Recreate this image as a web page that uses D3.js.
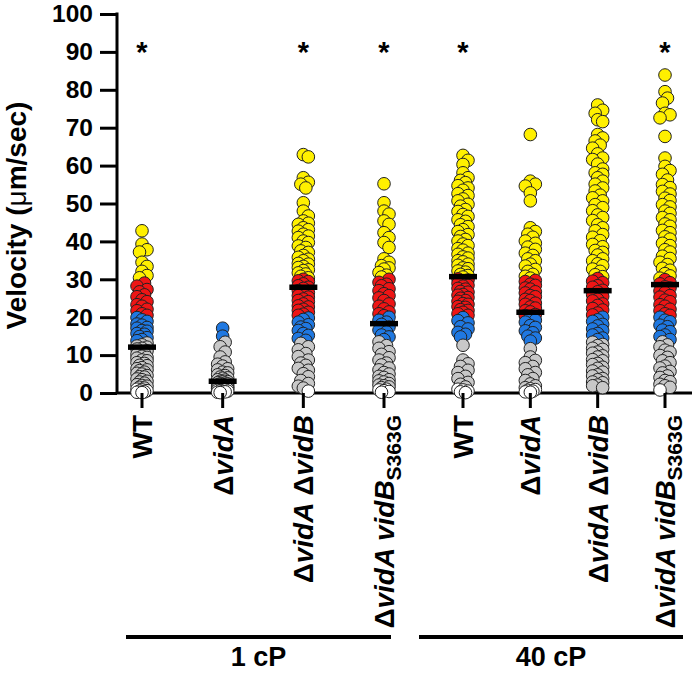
<!DOCTYPE html>
<html>
<head>
<meta charset="utf-8">
<script src="https://cdn.jsdelivr.net/npm/d3@7"></script>
<style>
  html, body { margin: 0; padding: 0; background: #fff; }
  svg { display: block; }
  text { font-family: "Liberation Sans", Arial, Helvetica, sans-serif; font-weight: bold; fill: #000; }
</style>
</head>
<body>
<svg id="chart" width="693" height="673"></svg>
<script>
// ---------------- DATA ----------------
const groups = ["1 cP", "40 cP"];
const categoryGroup = [0, 0, 0, 0, 1, 1, 1, 1];
// label parts: [text, italic?, subscript?]
const categoryLabels = [
  [["WT", 0, 0]],
  [["Δ", 0, 0], ["vidA", 1, 0]],
  [["Δ", 0, 0], ["vidA ", 1, 0], ["Δ", 0, 0], ["vidB", 1, 0]],
  [["Δ", 0, 0], ["vidA vidB", 1, 0], ["S363G", 0, 1]],
  [["WT", 0, 0]],
  [["Δ", 0, 0], ["vidA", 1, 0]],
  [["Δ", 0, 0], ["vidA ", 1, 0], ["Δ", 0, 0], ["vidB", 1, 0]],
  [["Δ", 0, 0], ["vidA vidB", 1, 0], ["S363G", 0, 1]]
];
const yTicks = [0, 10, 20, 30, 40, 50, 60, 70, 80, 90, 100];
const significance = ["*", "", "*", "*", "*", "", "", "*"];
const means = [12.1, 3.1, 27.9, 18.3, 30.7, 21.3, 27.0, 28.6];

const wt1 = [42.8, 39.3, 37.8, 37.2, 34.5, 33.4, 32.1, 31.0, 30.4,
  29.0, 28.2, 27.3, 26.7, 25.9, 25.4, 24.6, 24.1, 23.3, 22.9, 22.1, 21.7, 20.9, 20.5,
  19.9, 19.3, 18.9, 18.2, 17.9, 17.3, 17.1, 16.5, 16.3, 15.7, 15.5, 14.9, 14.6, 14.1, 13.8,
  13.2, 12.7, 12.4, 12.1, 11.8, 11.6, 11.1, 10.9, 10.4, 10.2, 9.7, 9.4, 9.2, 8.7, 8.5, 8.0,
  7.8, 7.3, 7.2, 6.7, 6.4, 6.1, 5.9, 5.5, 5.2, 5.0, 4.6, 4.3, 4.2, 3.7, 3.5, 3.1, 2.9, 2.6,
  2.2, 2.0, 1.8, 1.5, 1.3, 1.0, 0.8, 0.6, 0.5, 0.3, 0.2, 0.1];
const vidA1 = [17.1, 15.0, 13.4, 12.2, 10.8, 9.5, 8.2, 7.6, 7.1, 6.4, 6.1, 5.5, 5.3, 4.8, 4.6,
  4.2, 4.0, 3.9, 3.5, 3.4, 3.1, 3.0, 2.9, 2.7, 2.6, 2.4, 2.4, 2.2, 2.1, 2.0, 1.9, 1.8, 1.7,
  1.6, 1.6, 1.5, 1.4, 1.3, 1.3, 1.2, 1.1, 1.0, 0.9, 0.8, 0.7, 0.6, 0.5, 0.4, 0.3, 0.2, 0.1];
const vidAB1 = [62.9, 62.3, 56.8, 55.6, 55.1, 54.1, 50.2, 48.0, 46.7, 45.4, 44.8, 44.5, 43.6,
  43.1, 42.7, 41.9, 41.4, 41.0, 40.1, 39.7, 38.8, 38.4, 37.5, 37.1, 36.3, 35.8, 35.3, 34.9,
  34.2, 34.0, 33.4, 33.1, 32.5, 32.3, 31.7, 31.4, 30.8, 30.4,
  30.0, 29.6, 29.4, 28.8, 28.3, 27.9, 27.6, 27.0, 26.5, 26.2, 25.7, 25.3, 24.8, 24.4, 24.1,
  23.5, 23.0, 22.7, 22.1, 21.8, 21.3, 20.8, 20.5,
  19.8, 19.4, 18.7, 18.0, 17.4, 17.0, 16.5, 15.7, 15.2, 14.4, 13.9,
  13.1, 12.2, 11.4, 10.4, 9.6, 8.7, 7.9, 7.3, 6.5, 6.0, 5.1, 4.3, 3.3, 2.5, 1.8, 1.3, 0.5];
const s363g1 = [55.2, 50.2, 48.0, 47.2, 45.4, 44.5, 42.3, 41.0, 39.7, 38.4, 35.4, 34.5, 33.6,
  33.0, 32.7, 31.8, 31.1, 30.6,
  30.0, 29.2, 28.7, 28.3, 27.5, 27.0, 26.2, 25.7, 25.1, 24.4, 23.5, 22.9, 22.2, 21.4, 20.9, 20.4,
  20.0, 19.2, 18.7, 18.1, 17.4, 16.6, 16.1, 15.3, 14.8, 14.1,
  13.5, 12.5, 11.8, 10.9, 10.2, 9.3, 8.7, 7.9, 7.4, 6.6, 6.1, 5.4, 5.0, 4.4, 4.1, 3.5, 3.2,
  2.9, 2.5, 2.1, 1.9, 1.6, 1.4, 1.0, 0.8, 0.6, 0.4, 0.2];
const wt40 = [62.7, 61.4, 60.3, 58.1, 56.8, 56.1, 55.5, 54.7, 54.1, 53.5, 52.6, 52.1, 51.2,
  50.7, 49.8, 49.3, 48.4, 47.9, 47.1, 46.6, 45.7, 45.3, 44.4, 43.9, 43.1, 42.6, 41.8, 41.3,
  40.5, 40.1, 39.3, 38.9, 38.1, 37.7, 36.9, 36.6, 35.9, 35.6, 34.9, 34.6, 34.0, 33.7, 33.0,
  32.8, 32.2, 31.9, 31.3, 31.0, 30.6,
  30.1, 29.8, 29.2, 28.9, 28.4, 28.2, 27.6, 27.4, 26.8, 26.6, 26.0, 25.8, 25.2, 25.0, 24.4,
  24.2, 23.6, 23.4, 22.8, 22.6, 22.0, 21.8, 21.3, 20.9, 20.5,
  19.9, 19.1, 18.5, 17.5, 16.9, 16.0, 15.5, 14.8,
  12.6, 8.7, 7.7, 7.0, 6.0, 5.4, 4.4, 3.8, 2.8, 2.3, 1.6,
  1.0, 0.8, 0.5, 0.3, 0.1];
const vidA40 = [68.2, 55.9, 55.1, 54.6, 52.8, 50.7, 43.6, 42.6, 41.9, 41.1, 40.1, 39.5, 38.5,
  37.9, 36.9, 36.3, 35.4, 34.9, 34.0, 33.5, 32.6, 32.1, 31.3, 30.8,
  30.3, 29.7, 29.4, 28.7, 28.4, 27.7, 27.4, 26.7, 26.4, 25.7, 25.4, 24.7, 24.4, 23.7, 23.4,
  22.7, 22.4, 21.7, 21.4, 20.7, 20.4,
  20.0, 19.2, 18.7, 17.8, 17.3, 16.4, 15.9, 15.0, 14.5, 13.7,
  11.7, 9.5, 8.6, 8.0, 7.0, 6.4, 5.4, 4.8, 3.8, 3.3, 2.4, 1.9,
  1.4, 1.1, 0.9, 0.7, 0.5, 0.3, 0.2];
const vidAB40 = [76.0, 74.6, 73.8, 72.1, 71.6, 68.2, 67.3, 66.5, 65.4, 64.6, 63.1, 62.0, 61.6,
  60.4, 59.1, 58.1, 57.7, 56.8, 55.9, 55.1, 54.1, 53.3, 52.2, 51.5, 50.7, 49.7, 48.9, 48.1,
  47.0, 46.3, 45.5, 44.4, 43.6, 42.8, 41.8, 41.1, 40.2, 39.2, 38.6, 37.6, 37.1, 36.4, 35.4,
  34.9, 34.1, 33.6, 32.7, 32.1, 31.2, 30.7,
  30.2, 29.5, 29.1, 28.3, 27.9, 27.1, 26.7, 25.9, 25.5, 24.7, 24.3, 23.5, 23.1, 22.3, 21.9,
  21.1, 20.6,
  20.0, 19.3, 18.9, 18.1, 17.7, 16.9, 16.5, 15.7, 15.3, 14.5, 14.1,
  13.4, 12.8, 12.5, 11.8, 11.5, 10.8, 10.5, 9.8, 9.5, 8.8, 8.5, 7.8, 7.5, 6.8, 6.5, 5.8, 5.5,
  4.8, 4.5, 3.8, 3.5, 2.9, 2.7, 2.1, 1.9, 1.4];
const s363g40 = [83.9, 79.5, 77.8, 76.5, 73.8, 73.4, 72.6, 67.7, 62.0, 59.8, 58.7, 57.7, 56.2,
  55.0, 54.2, 53.2, 52.5, 51.4, 50.8, 49.7, 49.1, 48.0, 47.4, 46.3, 45.7, 44.6, 44.0, 42.9,
  42.3, 41.2, 40.6, 39.5, 38.9, 37.8, 37.2, 36.1, 35.5, 34.5, 33.9, 32.9, 32.4, 31.5, 30.9,
  30.3, 29.9, 29.1, 28.8, 28.0, 27.7, 26.9, 26.5, 25.7, 25.3, 24.5, 24.1, 23.3, 22.9, 22.1,
  21.7, 20.9, 20.5,
  20.0, 19.2, 18.8, 17.9, 17.5, 16.6, 16.2, 15.3, 14.9, 14.1,
  13.5, 12.7, 12.2, 11.3, 10.8, 9.9, 9.4, 8.5, 8.0, 7.1, 6.6, 5.7, 5.3, 4.5, 4.1, 3.3, 3.0,
  2.3, 1.9, 1.5, 0.8];
const seriesValues = [wt1, vidA1, vidAB1, s363g1, wt40, vidA40, vidAB40, s363g40];

// colour classes by velocity
const colorBreaks = [1.2, 13.6, 20.2, 30.3];
const colorFills = ["#ffffff", "#c8c8c8", "#1f78e1", "#ee1515", "#fff000"];

// ---------------- LAYOUT ----------------
const layout = {
  axisX: 117, yTop: 14, yBottom: 393, xAxisEnd: 692,
  group1Range: [142, 384], group2Range: [463, 665],
  groupLines: [[126, 391], [419, 683]], groupLineY: 637, groupLabelY: 666,
  labelTop: 415, starY: 48, r: 6.3
};

const svg = d3.select("#chart");

const y = d3.scaleLinear().domain([0, 100]).range([layout.yBottom, layout.yTop]);
const xA = d3.scalePoint().domain([0, 1, 2, 3]).range(layout.group1Range);
const xB = d3.scalePoint().domain([4, 5, 6, 7]).range(layout.group2Range);
const xPos = i => (categoryGroup[i] === 0 ? xA(i) : xB(i));
const color = d3.scaleThreshold().domain(colorBreaks).range(colorFills);

// ---------------- Y AXIS ----------------
const yAxis = d3.axisLeft(y).tickValues(yTicks).tickSize(17).tickSizeOuter(0).tickPadding(7);
const gy = svg.append("g").attr("transform", `translate(${layout.axisX},0)`).call(yAxis);
gy.select(".domain").attr("stroke", "#000").attr("stroke-width", 3)
  .attr("d", `M0,${layout.yTop - 1.5}V${layout.yBottom}`);
gy.selectAll(".tick line").attr("stroke", "#000").attr("stroke-width", 3);
gy.selectAll(".tick text").attr("font-size", 24.5).attr("font-weight", "bold")
  .attr("font-family", '"Liberation Sans", Arial, sans-serif').attr("fill", "#000");

// Y title
const yt = svg.append("text")
  .attr("transform", `translate(16,${(layout.yTop + layout.yBottom) / 2 + 12}) rotate(-90)`)
  .attr("text-anchor", "middle").attr("dy", "0.35em").attr("font-size", 28);
yt.append("tspan").text("Velocity (");
yt.append("tspan").text("μ").attr("font-weight", "normal");
yt.append("tspan").text("m/sec)");

// ---------------- X AXIS ----------------
svg.append("line").attr("x1", layout.axisX).attr("x2", layout.xAxisEnd)
  .attr("y1", y(0)).attr("y2", y(0)).attr("stroke", "#000").attr("stroke-width", 3);

// ---------------- POINTS (swarm) ----------------
const offsets = [0, 2.5, -2.5, 5, -5];
const minD = 6.5;
seriesValues.forEach((vals, ci) => {
  const cx = xPos(ci);
  const placed = [];
  const pts = vals.map(v => {
    const py = y(v);
    let best = null, bestScore = -1;
    for (const o of offsets) {
      let md = Infinity;
      for (const p of placed) {
        const d = Math.hypot(p.dx - o, p.py - py);
        if (d < md) md = d;
      }
      if (md >= minD) { best = o; bestScore = Infinity; break; }
      if (md > bestScore) { bestScore = md; best = o; }
    }
    const pt = { v, py, dx: best };
    placed.push(pt);
    return pt;
  });
  svg.append("g").selectAll("circle").data(pts).join("circle")
    .attr("cx", d => cx + d.dx).attr("cy", d => d.py).attr("r", layout.r)
    .attr("fill", d => color(d.v)).attr("stroke", "#222").attr("stroke-width", 1);
});

// mean bars
svg.append("g").selectAll("line").data(means).join("line")
  .attr("x1", (d, i) => xPos(i) - 14).attr("x2", (d, i) => xPos(i) + 14)
  .attr("y1", d => y(d)).attr("y2", d => y(d))
  .attr("stroke", "#000").attr("stroke-width", 5.5);

// x ticks
svg.append("g").selectAll("line").data(categoryLabels).join("line")
  .attr("x1", (d, i) => xPos(i)).attr("x2", (d, i) => xPos(i))
  .attr("y1", y(0)).attr("y2", y(0) + 15).attr("stroke", "#000").attr("stroke-width", 3);

// significance stars
svg.append("g").selectAll("text").data(significance).join("text")
  .attr("x", (d, i) => xPos(i)).attr("y", layout.starY + 14)
  .attr("text-anchor", "middle").attr("font-size", 29).text(d => d);

// category labels
categoryLabels.forEach((parts, i) => {
  const t = svg.append("text")
    .attr("transform", `translate(${xPos(i)},${layout.labelTop}) rotate(-90)`)
    .attr("text-anchor", "end").attr("dy", "0.36em").attr("font-size", 28);
  parts.forEach(([txt, it, sub]) => {
    const s = t.append("tspan").text(txt);
    if (it) s.attr("font-style", "italic");
    if (sub) s.attr("font-size", 21).attr("dy", 7);
  });
});

// group lines and labels
svg.append("g").selectAll("line").data(groups).join("line")
  .attr("x1", (d, i) => layout.groupLines[i][0]).attr("x2", (d, i) => layout.groupLines[i][1])
  .attr("y1", layout.groupLineY).attr("y2", layout.groupLineY)
  .attr("stroke", "#000").attr("stroke-width", 4);
svg.append("g").selectAll("text").data(groups).join("text")
  .attr("x", (d, i) => (layout.groupLines[i][0] + layout.groupLines[i][1]) / 2)
  .attr("y", layout.groupLabelY).attr("text-anchor", "middle").attr("font-size", 27)
  .text(d => d);
</script>
</body>
</html>
